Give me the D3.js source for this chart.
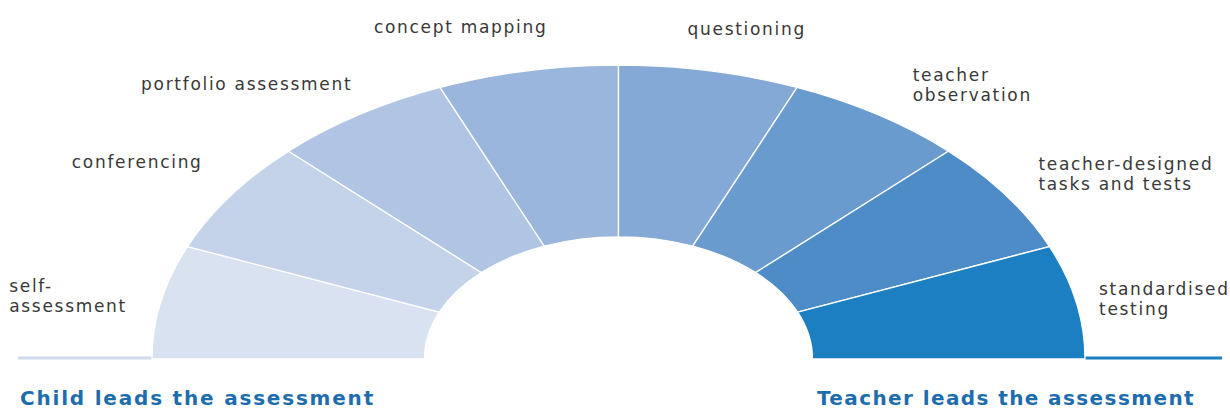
<!DOCTYPE html>
<html>
<head>
<meta charset="utf-8">
<script src="https://cdn.jsdelivr.net/npm/d3@7/dist/d3.min.js"></script>
<style>
  body { margin: 0; background: #fff; }
  text { font-family: "DejaVu Sans", sans-serif; }
</style>
</head>
<body>
<div class="main"></div>
<script>
// data, left (child led) to right (teacher led)
var categories = ["self-assessment", "conferencing", "portfolio assessment", "concept mapping",
    "questioning", "teacher observation", "teacher-designed tasks and tests", "standardised testing"];
var labelLines = [["self-", "assessment"], ["conferencing"], ["portfolio assessment"], ["concept mapping"],
    ["questioning"], ["teacher", "observation"], ["teacher-designed", "tasks and tests"], ["standardised", "testing"]];
var shares = [1, 1, 1, 1, 1, 1, 1, 1];
var leadLabels = ["Child leads the assessment", "Teacher leads the assessment"];

var colours = ["#d9e2f0", "#c4d3e9", "#afc5e3", "#9bb6dc", "#84a9d6", "#6a9bcf", "#4e8cc8", "#1b7fc1"];
var width = 1230;
var height = 410;
var cx = 618.5, cy = 359;
var outerR = 466.5, innerR = 194, squash = 0.63;
// hand nudges of the labels from the slice's outer edge
var labelNudge = [[-34, -10], [-28, -28], [-7, -25], [20, -38], [-22, -36], [35, -34], [32, -26], [23, -7]];

var svg = d3.select(".main")
    .append("svg")
        .attr("width", width)
        .attr("height", height);

var pie = d3.pie()
    .sort(null)
    .startAngle(-Math.PI / 2)
    .endAngle(Math.PI / 2);

var arc = d3.arc()
    .innerRadius(innerR)
    .outerRadius(outerR);

var slices = pie(shares);
var midAngle = d => (d.startAngle + d.endAngle) / 2;

// base lines either side of the arch
svg.append("line")
    .attr("x1", cx - outerR - 134).attr("x2", cx - outerR)
    .attr("y1", cy - 1).attr("y2", cy - 1)
    .attr("stroke", "#cfdbec")
    .attr("stroke-width", 3);
svg.append("line")
    .attr("x1", cx + outerR).attr("x2", cx + outerR + 137)
    .attr("y1", cy - 1).attr("y2", cy - 1)
    .attr("stroke", colours[colours.length - 1])
    .attr("stroke-width", 3);

svg.append("g")
    .attr("transform", "translate(" + cx + "," + cy + ") scale(1," + squash + ")")
    .selectAll("path")
    .data(slices)
    .enter()
    .append("path")
    .attr("d", arc)
    .attr("fill", (d, i) => colours[i])
    .attr("stroke", "#fff")
    .attr("stroke-width", 1.3)
    .attr("vector-effect", "non-scaling-stroke");

var labels = svg.selectAll(".label")
    .data(slices)
    .enter()
    .append("text")
    .attr("class", "label")
    .style("font-size", "17px")
    .style("letter-spacing", "1.7px")
    .style("fill", "#383838");

labels.selectAll("tspan")
    .data((d, i) => labelLines[i])
    .enter()
    .append("tspan")
    .attr("x", 0)
    .attr("y", (d, j) => j * 20)
    .text(d => d);

// left hand labels end near the arch, but their lines stay left aligned
labels.each(function(d, i) {
    let a = midAngle(d);
    let x = cx + outerR * Math.sin(a) + labelNudge[i][0];
    let y = cy - outerR * Math.cos(a) * squash + labelNudge[i][1];
    if (a < 0) x -= this.getBBox().width;
    d3.select(this).attr("transform", "translate(" + x + "," + y + ")");
});

svg.append("text")
    .attr("x", cx - outerR - 132)
    .attr("y", 405)
    .style("font-size", "20px")
    .style("font-weight", "bold")
    .style("letter-spacing", "1.8px")
    .style("fill", "#1d6dae")
    .text(leadLabels[0]);

svg.append("text")
    .attr("x", cx + outerR + 110)
    .attr("y", 405)
    .attr("text-anchor", "end")
    .style("font-size", "20px")
    .style("font-weight", "bold")
    .style("letter-spacing", "1.4px")
    .style("fill", "#1d6dae")
    .text(leadLabels[1]);
</script>
</body>
</html>
